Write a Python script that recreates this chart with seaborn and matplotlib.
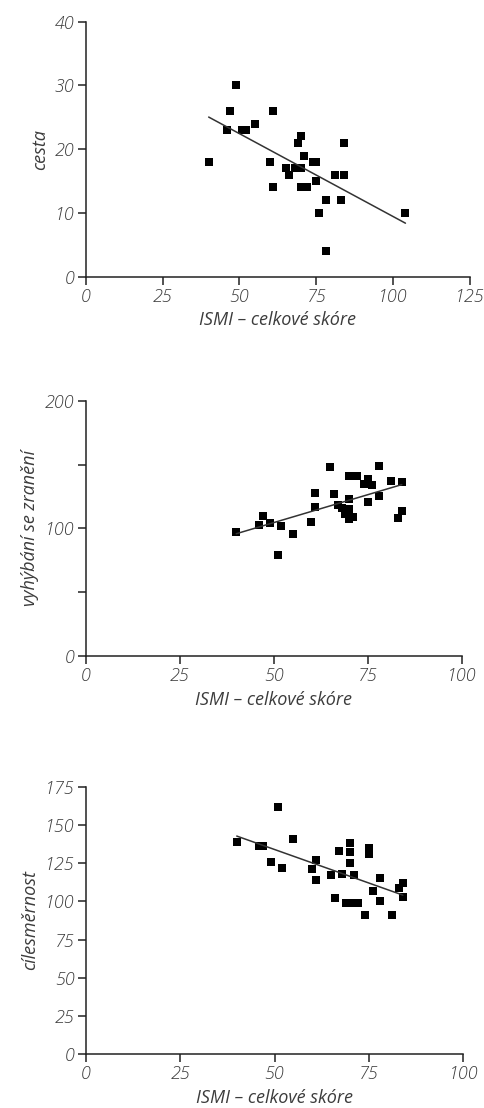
import matplotlib
matplotlib.use("Agg")
import matplotlib.pyplot as plt
import seaborn as sns

# ISMI total score vs. three outcomes
ismi_cesta = [40, 46, 47, 49, 51, 52, 55, 60, 61, 61, 65, 66, 68, 69, 70,
              70, 70, 71, 72, 74, 75, 75, 76, 78, 78, 81, 83, 84, 84, 104]
cesta = [18, 23, 26, 30, 23, 23, 24, 18, 26, 14, 17, 16, 17, 21, 22,
         17, 14, 19, 14, 18, 18, 15, 10, 12, 4, 16, 12, 21, 16, 10]

ismi_vyh = [40, 46, 47, 49, 51, 52, 55, 60, 61, 61, 65, 66, 67, 68, 69, 70,
            70, 70, 70, 71, 72, 74, 75, 75, 76, 78, 78, 81, 83, 84, 84]
vyhybani = [97, 103, 110, 104, 79, 102, 96, 105, 128, 117, 148, 127, 118, 116,
            111, 141, 123, 115, 107, 109, 141, 135, 139, 121, 134, 149, 125,
            137, 108, 136, 114]

ismi_cil = [40, 46, 47, 49, 51, 52, 55, 60, 61, 61, 65, 66, 67, 68, 69, 70,
            70, 70, 70, 71, 72, 74, 75, 75, 76, 78, 78, 81, 83, 84, 84]
cilesmernost = [139, 136, 136, 126, 162, 122, 141, 121, 127, 114, 117, 102,
                133, 118, 99, 138, 132, 125, 99, 117, 99, 91, 135, 131, 107,
                115, 100, 91, 109, 112, 103]

x_label = "ISMI – celkové skóre"

sns.set_style("ticks")
plt.rcParams["font.family"] = ["Open Sans", "DejaVu Sans"]
plt.rcParams["font.style"] = "italic"
plt.rcParams["font.weight"] = "light"

text_color = "#3c3c3c"

fig = plt.figure(figsize=(4.85, 11.08), dpi=100)

panels = [
    # data x, data y, y label, x max, y max, y ticks, y tick labels, axes rect
    (ismi_cesta, cesta, "cesta", 125, 40,
     [0, 10, 20, 30, 40], ["0", "10", "20", "30", "40"],
     [0.1767, 0.7503, 0.7924, 0.2301]),
    (ismi_vyh, vyhybani, "vyhýbání se zranění", 100, 200,
     [0, 50, 100, 150, 200], ["0", "", "100", "", "200"],
     [0.1767, 0.4079, 0.7759, 0.2304]),
    (ismi_cil, cilesmernost, "cílesměrnost", 100, 175,
     [0, 25, 50, 75, 100, 125, 150, 175],
     ["0", "25", "50", "75", "100", "125", "150", "175"],
     [0.1767, 0.0487, 0.7786, 0.2412]),
]

for xs, ys, ylab, xmax, ymax, yt, ytl, rect in panels:
    ax = fig.add_axes(rect)
    sns.regplot(x=xs, y=ys, ax=ax, ci=None, marker="s",
                scatter_kws={"s": 28, "color": "black", "alpha": 1,
                             "linewidths": 0},
                line_kws={"color": "#333333", "linewidth": 1.1})
    ax.set_xlim(0, xmax)
    ax.set_ylim(0, ymax)
    ax.set_xticks(range(0, xmax + 1, 25))
    ax.set_yticks(yt)
    ax.set_yticklabels(ytl)
    ax.tick_params(length=6, width=1.1, pad=2, labelsize=13,
                   colors="#222222", labelcolor=text_color)
    for lab in ax.get_xticklabels() + ax.get_yticklabels():
        lab.set_fontstyle("italic")
        lab.set_clip_on(False)
    ax.set_xlabel(x_label, fontsize=13, color=text_color, labelpad=4)
    ax.set_ylabel(ylab, fontsize=13, color=text_color, labelpad=4)
    for side in ["left", "bottom"]:
        ax.spines[side].set_linewidth(1.1)
        ax.spines[side].set_color("#222222")
    sns.despine(ax=ax)

fig.savefig("out.png", dpi=100)
